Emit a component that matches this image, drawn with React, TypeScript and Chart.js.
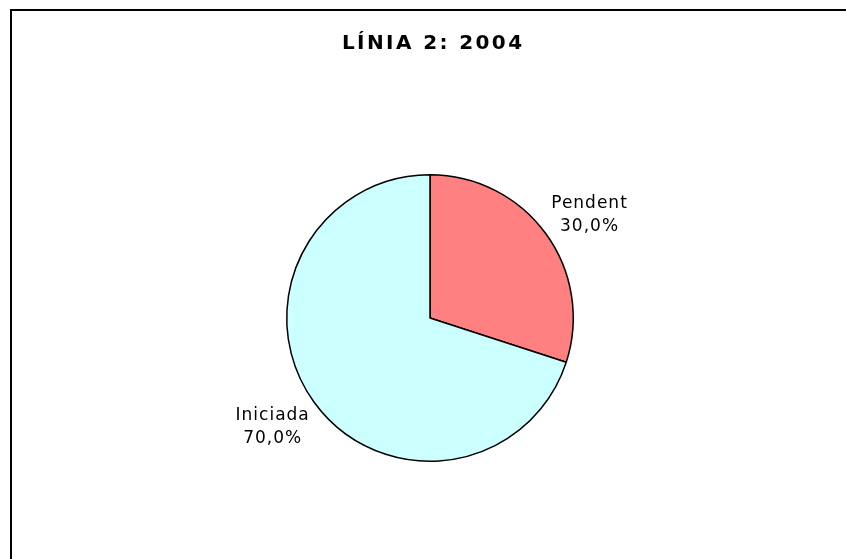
import React, { useEffect, useRef } from "react";
import { Chart, registerables } from "chart.js";

Chart.register(...registerables);

const categories = ["Pendent", "Iniciada"];
const values = [30, 70];
const colors = ["#FF8080", "#CCFFFF"];
const titleText = "LÍNIA 2: 2004";

const fmtPct = (v: number, total: number) =>
  ((v / total) * 100).toFixed(1).replace(".", ",") + "%";

const decorPlugin = {
  id: "decor",
  beforeDraw(chart: any) {
    const ctx = chart.ctx;
    ctx.save();
    ctx.fillStyle = "#ffffff";
    ctx.fillRect(0, 0, chart.width, chart.height);
    ctx.strokeStyle = "#000000";
    ctx.lineWidth = 2;
    ctx.beginPath();
    ctx.moveTo(chart.width, 10);
    ctx.lineTo(11, 10);
    ctx.lineTo(11, chart.height);
    ctx.stroke();
    // title
    ctx.fillStyle = "#000000";
    ctx.font = "bold 20px 'DejaVu Sans'";
    (ctx as any).letterSpacing = "2.4px";
    ctx.textAlign = "center";
    ctx.textBaseline = "middle";
    ctx.fillText(titleText, 432 + 1.2, 44);
    ctx.restore();
  },
  afterDatasetsDraw(chart: any) {
    const ctx = chart.ctx;
    const meta = chart.getDatasetMeta(0);
    const total = values.reduce((a, b) => a + b, 0);
    ctx.save();
    ctx.fillStyle = "#000000";
    ctx.font = "17px 'DejaVu Sans'";
    (ctx as any).letterSpacing = "1px";
    ctx.textAlign = "center";
    ctx.textBaseline = "middle";
    meta.data.forEach((arc: any, i: number) => {
      const p = arc.getProps(["x", "y", "startAngle", "endAngle", "outerRadius"], true);
      const mid = (p.startAngle + p.endAngle) / 2;
      const d = p.outerRadius + 6;
      const ax = p.x + Math.cos(mid) * d;
      const ay = p.y + Math.sin(mid) * d;
      const l1 = categories[i];
      const l2 = fmtPct(values[i], total);
      const w = Math.max(ctx.measureText(l1).width, ctx.measureText(l2).width);
      const h = 36;
      const cx = ax + Math.sign(Math.cos(mid)) * w / 2;
      const cy = ay + Math.sign(Math.sin(mid)) * h / 2 + 3;
      ctx.fillText(l1, cx + 0.5, cy - 11.5);
      ctx.fillText(l2, cx + 0.5, cy + 11.5);
    });
    ctx.restore();
  },
};

export default function App() {
  const ref = useRef<HTMLCanvasElement>(null);
  useEffect(() => {
    if (!ref.current) return;
    const chart = new Chart(ref.current, {
      type: "pie",
      data: {
        labels: categories,
        datasets: [
          {
            data: values,
            backgroundColor: colors,
            borderColor: "#000000",
            borderWidth: 1.5,
          },
        ],
      },
      options: {
        responsive: false,
        animation: false,
        layout: { padding: { top: 174, bottom: 97, left: 100, right: 86 } },
        plugins: {
          legend: { display: false },
          title: { display: false },
          tooltip: { enabled: false },
        },
      },
      plugins: [decorPlugin],
    });
    return () => chart.destroy();
  }, []);
  return (
    <div style={{ position: "fixed", left: 0, top: 0, width: 846, height: 559, background: "#fff" }}>
      <canvas ref={ref} width={846} height={559} style={{ display: "block" }} />
    </div>
  );
}
